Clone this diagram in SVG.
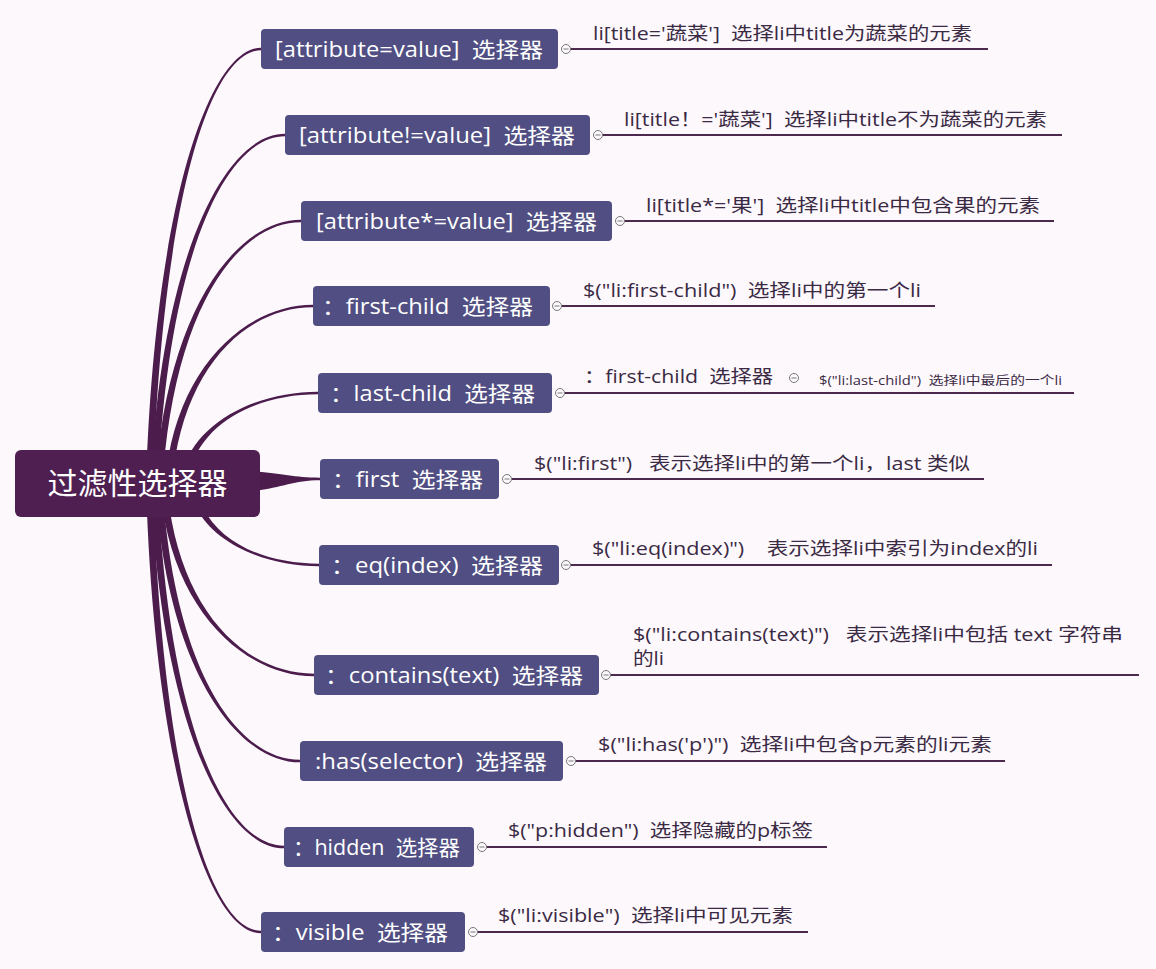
<svg xmlns="http://www.w3.org/2000/svg" width="1156" height="969" viewBox="0 0 1156 969">
<defs>
<style>
.bg{fill:#fcf8fc}
.root{fill:#4f1f51}
.node{fill:#504e82}
.conn{fill:#4b1c4c}
.rl{stroke:#4d2a4d;stroke-width:2.2;fill:none}
.tg{fill:#fcf8fc;stroke:#7a7a7a;stroke-width:1}
.tgm{stroke:#7a7a7a;stroke-width:1}
.rt{font-family:"Open Sans","Noto Sans CJK SC",sans-serif;font-size:30px;fill:#ffffff}
.nt{font-family:"Open Sans","Noto Sans CJK SC",sans-serif;font-size:21px;fill:#ffffff}
.dt{font-family:"Open Sans","Noto Sans CJK SC",sans-serif;font-size:18px;fill:#3b2a44}
.st{font-family:"Open Sans","Noto Sans CJK SC",sans-serif;font-size:12px;fill:#3b2a44}
</style>
</defs>
<rect class="bg" x="0" y="0" width="1156" height="969"/>
<g id="connectors">
<path class="conn" d="M146.5 470 C156.5 200.6 210 47.7 261 47.7 L261 50.3 C210 50.3 163.5 200.6 153.5 470 Z"/>
<path class="conn" d="M151.5 470 C163.2 255.6 225.2 133.7 285 133.7 L285 136.3 C225.2 136.3 170.2 255.6 158.5 470 Z"/>
<path class="conn" d="M156.5 470 C169.2 310.6 236.1 219.7 301 219.7 L301 222.3 C236.1 222.3 176.2 310.6 163.5 470 Z"/>
<path class="conn" d="M166.5 470 C179.4 365 247.2 304.7 313 304.7 L313 307.3 C247.2 307.3 186.4 365 173.5 470 Z"/>
<path class="conn" d="M181.5 475 C193.5 422.5 256.8 391.7 318 391.7 L318 394.3 C256.8 394.3 200.5 422.5 188.5 475 Z"/>
<path class="conn" d="M240 471 C280 472 290 477.7 320 477.7 L320 480.3 C290 480.3 280 490 240 492 Z"/>
<path class="conn" d="M191.5 495 C203.6 539.8 262 566.3 319 566.3 L319 563.7 C262 563.7 210.6 539.8 198.5 495 Z"/>
<path class="conn" d="M161.5 500 C174.9 612 245.5 676.3 314 676.3 L314 673.7 C245.5 673.7 181.9 612 168.5 500 Z"/>
<path class="conn" d="M156.5 500 C169.1 667 235.6 762.3 300 762.3 L300 759.7 C235.6 759.7 176.1 667 163.5 500 Z"/>
<path class="conn" d="M151.5 500 C163.1 722 224.7 848.3 284 848.3 L284 845.7 C224.7 845.7 170.1 722 158.5 500 Z"/>
<path class="conn" d="M146.5 500 C156.5 776.5 209.9 933.3 261 933.3 L261 930.7 C209.9 930.7 163.5 776.5 153.5 500 Z"/>
<path class="rl" d="M570 49 H988"/>
<path class="rl" d="M602 135 H1062"/>
<path class="rl" d="M624 221 H1054"/>
<path class="rl" d="M561 306 H935"/>
<path class="rl" d="M564 393 H1074"/>
<path class="rl" d="M511 479 H984"/>
<path class="rl" d="M570 565 H1052"/>
<path class="rl" d="M610 675 H1139"/>
<path class="rl" d="M575 761 H1005"/>
<path class="rl" d="M486 847 H827"/>
<path class="rl" d="M477 932 H808"/>
</g>
<g id="root">
<rect class="root" x="15" y="450" width="245" height="67" rx="6"/>
<text class="rt" x="137.5" y="494" text-anchor="middle" textLength="180" lengthAdjust="spacingAndGlyphs">过滤性选择器</text>
</g>
<g id="n1">
<rect class="node" x="261" y="29" width="297" height="40" rx="4"/>
<text class="nt" x="275" y="57" textLength="268" lengthAdjust="spacingAndGlyphs">[attribute=value]&#160;&#160;选择器</text>
<circle class="tg" cx="566" cy="49" r="4.5"/><path class="tgm" d="M563.5 49 H568.5"/>
<text class="dt" x="593" y="40" textLength="379" lengthAdjust="spacingAndGlyphs">li[title='蔬菜']&#160;&#160;选择li中title为蔬菜的元素</text>
</g>
<g id="n2">
<rect class="node" x="285" y="115" width="305" height="40" rx="4"/>
<text class="nt" x="299" y="143" textLength="276" lengthAdjust="spacingAndGlyphs">[attribute!=value]&#160;&#160;选择器</text>
<circle class="tg" cx="598" cy="135" r="4.5"/><path class="tgm" d="M595.5 135 H600.5"/>
<text class="dt" x="624" y="126" textLength="423" lengthAdjust="spacingAndGlyphs">li[title！='蔬菜']&#160;&#160;选择li中title不为蔬菜的元素</text>
</g>
<g id="n3">
<rect class="node" x="301" y="201" width="311" height="40" rx="4"/>
<text class="nt" x="316" y="229" textLength="281" lengthAdjust="spacingAndGlyphs">[attribute*=value]&#160;&#160;选择器</text>
<circle class="tg" cx="620" cy="221" r="4.5"/><path class="tgm" d="M617.5 221 H622.5"/>
<text class="dt" x="646" y="212" textLength="394" lengthAdjust="spacingAndGlyphs">li[title*='果']&#160;&#160;选择li中title中包含果的元素</text>
</g>
<g id="n4">
<rect class="node" x="313" y="286" width="237" height="40" rx="4"/>
<text class="nt" x="322" y="314" textLength="211" lengthAdjust="spacingAndGlyphs">：first-child&#160;&#160;选择器</text>
<circle class="tg" cx="557" cy="306" r="4.5"/><path class="tgm" d="M554.5 306 H559.5"/>
<text class="dt" x="583" y="297" textLength="338" lengthAdjust="spacingAndGlyphs">$("li:first-child")&#160;&#160;选择li中的第一个li</text>
</g>
<g id="n5">
<rect class="node" x="318" y="373" width="234" height="40" rx="4"/>
<text class="nt" x="330" y="401" textLength="205" lengthAdjust="spacingAndGlyphs">：last-child&#160;&#160;选择器</text>
<circle class="tg" cx="560" cy="393" r="4.5"/><path class="tgm" d="M557.5 393 H562.5"/>
<text class="dt" x="584" y="383" textLength="189" lengthAdjust="spacingAndGlyphs">：first-child&#160;&#160;选择器</text>
<circle class="tg" cx="794" cy="378" r="4.5"/><path class="tgm" d="M791.5 378 H796.5"/>
<text class="st" x="819" y="385" textLength="243" lengthAdjust="spacingAndGlyphs">$("li:last-child")&#160;&#160;选择li中最后的一个li</text>
</g>
<g id="n6">
<rect class="node" x="320" y="459" width="179" height="40" rx="4"/>
<text class="nt" x="332" y="487" textLength="151" lengthAdjust="spacingAndGlyphs">：first&#160;&#160;选择器</text>
<circle class="tg" cx="507" cy="479" r="4.5"/><path class="tgm" d="M504.5 479 H509.5"/>
<text class="dt" x="534" y="470" textLength="436" lengthAdjust="spacingAndGlyphs">$("li:first")&#160;&#160;&#160;表示选择li中的第一个li，last 类似</text>
</g>
<g id="n7">
<rect class="node" x="319" y="545" width="240" height="40" rx="4"/>
<text class="nt" x="331" y="573" textLength="212" lengthAdjust="spacingAndGlyphs">：eq(index)&#160;&#160;选择器</text>
<circle class="tg" cx="566" cy="565" r="4.5"/><path class="tgm" d="M563.5 565 H568.5"/>
<text class="dt" x="592" y="555" textLength="446" lengthAdjust="spacingAndGlyphs">$("li:eq(index)")&#160;&#160;&#160;&#160;表示选择li中索引为index的li</text>
</g>
<g id="n8">
<rect class="node" x="314" y="655" width="285" height="40" rx="4"/>
<text class="nt" x="325" y="683" textLength="258" lengthAdjust="spacingAndGlyphs">：contains(text)&#160;&#160;选择器</text>
<circle class="tg" cx="606" cy="675" r="4.5"/><path class="tgm" d="M603.5 675 H608.5"/>
<text class="dt" x="633" y="641" textLength="490" lengthAdjust="spacingAndGlyphs">$("li:contains(text)")&#160;&#160;&#160;表示选择li中包括 text 字符串</text>
<text class="dt" x="633" y="665" textLength="31" lengthAdjust="spacingAndGlyphs">的li</text>
</g>
<g id="n9">
<rect class="node" x="300" y="741" width="263" height="40" rx="4"/>
<text class="nt" x="315" y="769" textLength="232" lengthAdjust="spacingAndGlyphs">:has(selector)&#160;&#160;选择器</text>
<circle class="tg" cx="571" cy="761" r="4.5"/><path class="tgm" d="M568.5 761 H573.5"/>
<text class="dt" x="598" y="751" textLength="394" lengthAdjust="spacingAndGlyphs">$("li:has('p')")&#160;&#160;选择li中包含p元素的li元素</text>
</g>
<g id="n10">
<rect class="node" x="284" y="827" width="190" height="40" rx="4"/>
<text class="nt" x="293" y="855" textLength="167" lengthAdjust="spacingAndGlyphs">：hidden&#160;&#160;选择器</text>
<circle class="tg" cx="482" cy="847" r="4.5"/><path class="tgm" d="M479.5 847 H484.5"/>
<text class="dt" x="508" y="837" textLength="305" lengthAdjust="spacingAndGlyphs">$("p:hidden")&#160;&#160;选择隐藏的p标签</text>
</g>
<g id="n11">
<rect class="node" x="261" y="912" width="204" height="40" rx="4"/>
<text class="nt" x="272" y="940" textLength="176" lengthAdjust="spacingAndGlyphs">：visible&#160;&#160;选择器</text>
<circle class="tg" cx="473" cy="932" r="4.5"/><path class="tgm" d="M470.5 932 H475.5"/>
<text class="dt" x="498" y="922" textLength="295" lengthAdjust="spacingAndGlyphs">$("li:visible")&#160;&#160;选择li中可见元素</text>
</g>
</svg>
